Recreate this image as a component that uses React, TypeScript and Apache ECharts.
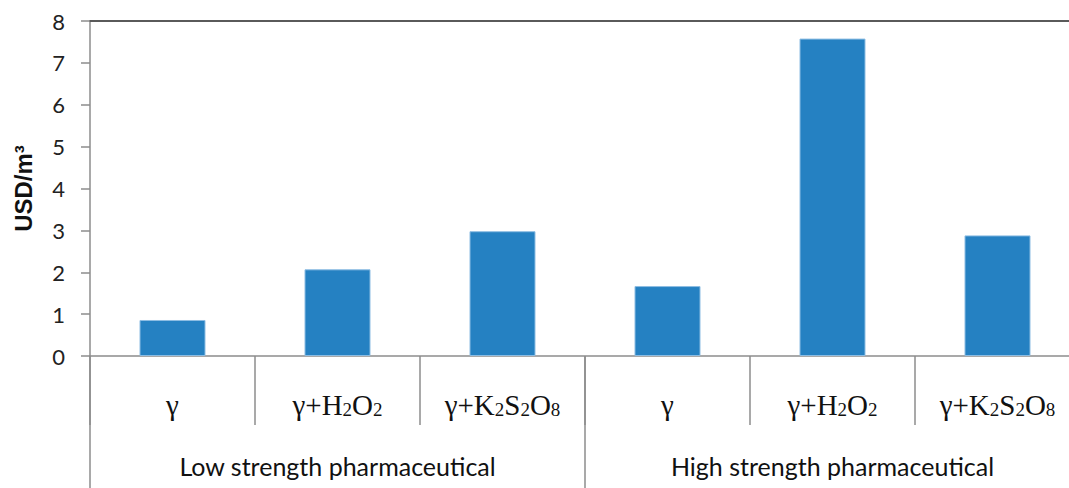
import React, { useEffect, useRef } from "react";
import * as echarts from "echarts";

const treatments = ["γ", "γ+H2O2", "γ+K2S2O8", "γ", "γ+H2O2", "γ+K2S2O8"];
const groups = ["Low strength pharmaceutical", "High strength pharmaceutical"];
const costs = [0.86, 2.07, 2.98, 1.67, 7.58, 2.88];
const yTicks = { min: 0, max: 8, interval: 1 };
const yName = "USD/m³";

const GRAY = "#8c8c8c";

function richLabel(v: string): string {
  let out = "";
  let buf = "";
  const flush = () => {
    if (buf) out += "{n|" + buf + "}";
    buf = "";
  };
  for (const ch of v) {
    if (/[0-9]/.test(ch)) {
      flush();
      out += "{s|" + ch + "}";
    } else buf += ch;
  }
  flush();
  return out;
}

export default function App() {
  const ref = useRef<HTMLDivElement>(null);
  useEffect(() => {
    const chart = echarts.init(ref.current!, null, { renderer: "svg" });
    chart.setOption({
      animation: false,
      backgroundColor: "#ffffff",
      grid: { left: 90, top: 21, width: 990, height: 335, containLabel: false },
      xAxis: [
        {
          type: "category",
          data: treatments,
          position: "bottom",
          axisLine: { show: true, lineStyle: { color: GRAY, width: 1.5 } },
          axisTick: { show: true, interval: 0, length: 69, lineStyle: { color: GRAY, width: 1.5 } },
          axisLabel: {
            interval: 0,
            margin: 29,
            formatter: (v: string) => richLabel(v),
            rich: {
              n: { fontFamily: "Liberation Serif", fontSize: 29, color: "#111", lineHeight: 34, verticalAlign: "bottom" },
              s: { fontFamily: "Liberation Serif", fontSize: 19, color: "#111", lineHeight: 22, verticalAlign: "bottom" },
            },
          },
        },
        {
          type: "category",
          data: groups,
          position: "bottom",
          axisLine: { show: false },
          axisTick: { show: true, interval: 0, length: 140, lineStyle: { color: GRAY, width: 1.5 } },
          axisLabel: {
            interval: 0,
            margin: 97,
            fontFamily: "Lato",
            fontSize: 25,
            color: "#111",
          },
        },
        {
          type: "category",
          data: groups,
          position: "top",
          axisLine: { show: true, lineStyle: { color: "#5a5a5a", width: 2 } },
          axisTick: { show: false },
          axisLabel: { show: false },
        },
      ],
      yAxis: {
        type: "value",
        min: yTicks.min,
        max: yTicks.max,
        interval: yTicks.interval,
        name: yName,
        nameLocation: "middle",
        nameRotate: 90,
        nameGap: 55,
        nameTextStyle: { fontFamily: "Liberation Sans", fontSize: 24, fontWeight: "bold", color: "#111" },
        axisLine: { show: true, lineStyle: { color: GRAY, width: 1.5 } },
        axisTick: { show: true, inside: false, length: 9, lineStyle: { color: GRAY, width: 1.5 } },
        axisLabel: { margin: 25, fontFamily: "Lato", fontSize: 22, color: "#222" },
        splitLine: { show: false },
      },
      series: [
        {
          type: "bar",
          xAxisIndex: 0,
          data: costs,
          barWidth: "40%",
          itemStyle: { color: "#2581C2", borderColor: "#8dbde3", borderWidth: 1 },
        },
      ],
    });
    return () => chart.dispose();
  }, []);
  return (
    <div style={{ position: "absolute", left: 0, top: 0, width: 1069, height: 488, overflow: "hidden" }}>
      <div ref={ref} style={{ width: 1085, height: 488 }} />
    </div>
  );
}
